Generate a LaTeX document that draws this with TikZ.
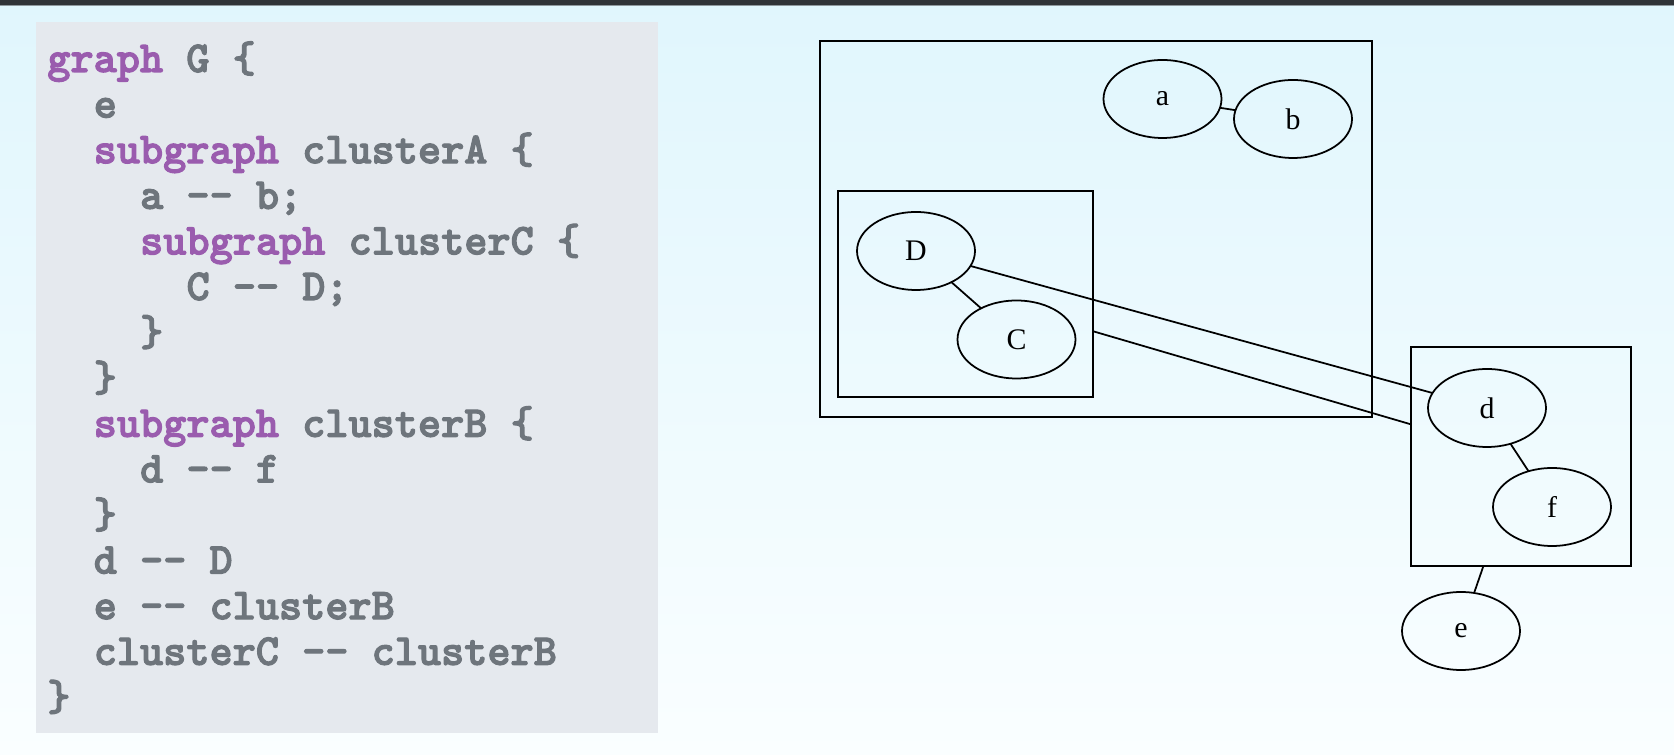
\documentclass[tikz,border=0pt]{standalone}
\usepackage{fontspec}
\setmainfont{Liberation Serif}
\newfontfamily\codefont{lmmonolt10-bold}[Extension=.otf, FakeBold=2.5]
\usepackage{xcolor}
\usetikzlibrary{shapes.geometric}

\definecolor{kwpurple}{HTML}{9A5CAE}
\definecolor{codegray}{HTML}{6E757C}
\definecolor{codebg}{HTML}{E5E9EE}
\definecolor{bgtop}{HTML}{E0F6FD}
\definecolor{bgbottom}{HTML}{FAFEFF}
\definecolor{topbar}{HTML}{2F3337}
\definecolor{barline}{HTML}{8E989D}

\tikzset{
  gnode/.style={ellipse, draw, line width=1pt, minimum width=2.36cm, minimum height=1.56cm,
    inner sep=0pt, outer sep=0pt, font=\fontsize{17}{20}\selectfont},
  cluster/.style={rectangle, draw, line width=1.2pt, inner sep=0pt, outer sep=0pt},
  codeline/.style={anchor=base west, inner sep=0pt, text=codegray,
    font=\codefont\fontsize{25.1}{30}\selectfont},
  gedge/.style={line width=1pt}
}

\begin{document}
\begin{tikzpicture}
\useasboundingbox (0,0) rectangle (33.48,15.1);

%%%background
\shade[top color=bgtop, bottom color=bgbottom] (0,0) rectangle (33.48,15.1);
\fill[topbar] (0,15.0) rectangle (33.48,15.1);
\fill[barline] (0,14.98) rectangle (33.48,15.0);

%%%code listing
\fill[codebg] (0.72,0.44) rectangle (13.16,14.66);
\node[codeline] (code0) at (0.94,13.66) {\textcolor{kwpurple}{graph} G \{};
\node[codeline] (code1) at (1.868,12.748) {e};
\node[codeline] (code2) at (1.868,11.836) {\textcolor{kwpurple}{subgraph} clusterA \{};
\node[codeline] (code3) at (2.796,10.924) {a -{}- b;};
\node[codeline] (code4) at (2.796,10.012) {\textcolor{kwpurple}{subgraph} clusterC \{};
\node[codeline] (code5) at (3.724,9.1) {C -{}- D;};
\node[codeline] (code6) at (2.796,8.188) {\}};
\node[codeline] (code7) at (1.868,7.276) {\}};
\node[codeline] (code8) at (1.868,6.364) {\textcolor{kwpurple}{subgraph} clusterB \{};
\node[codeline] (code9) at (2.796,5.452) {d -{}- f};
\node[codeline] (code10) at (1.868,4.54) {\}};
\node[codeline] (code11) at (1.868,3.628) {d -{}- D};
\node[codeline] (code12) at (1.868,2.716) {e -{}- clusterB};
\node[codeline] (code13) at (1.868,1.804) {clusterC -{}- clusterB};
\node[codeline] (code14) at (0.94,0.892) {\}};

%%%clusters
\node[cluster, minimum width=11.04cm, minimum height=7.526cm] (clA) at (21.92,10.523) {};
\node[cluster, minimum width=5.10cm, minimum height=4.12cm] (clC) at (19.31,9.22) {};
\node[cluster, minimum width=4.40cm, minimum height=4.38cm] (clB) at (30.42,5.97) {};

%%%nodes
\node[gnode] (a) at (23.25,13.12) {a};
\node[gnode] (b) at (25.86,12.72) {b};
\node[gnode] (D) at (18.32,10.08) {D};
\node[gnode] (C) at (20.33,8.31) {C};
\node[gnode] (d) at (29.74,6.94) {d};
\node[gnode] (f) at (31.04,4.96) {f};
\node[gnode] (e) at (29.22,2.48) {e};

%%%edges
\draw[gedge] (a) -- (b);
\draw[gedge] (D) -- (C);
\draw[gedge] (D) -- (d);
\draw[gedge] (d) -- (f);
\draw[gedge] (e) -- (clB);
\draw[gedge] (clC) -- (clB);

\end{tikzpicture}
\end{document}
